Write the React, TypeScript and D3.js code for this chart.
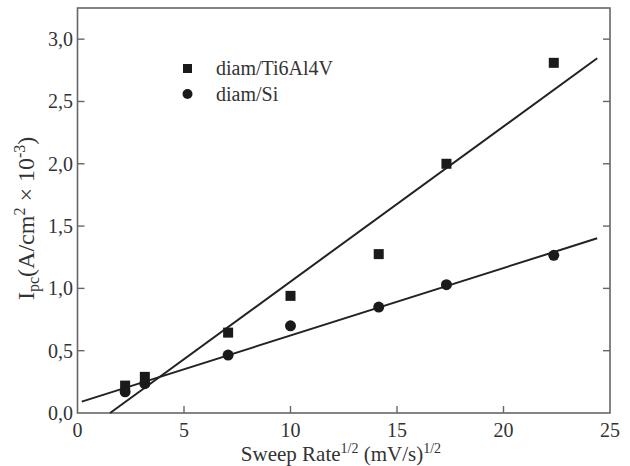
import React from "react";
import * as d3 from "d3";

const sweepRootX = [2.236, 3.162, 7.071, 10, 14.142, 17.321, 22.361];
const tiValues = [0.22, 0.29, 0.645, 0.94, 1.275, 2.0, 2.81];
const siValues = [0.17, 0.235, 0.465, 0.70, 0.85, 1.03, 1.265];
const tiFit = [[1.53, 0], [24.4, 2.847]];
const siFit = [[0.2, 0.091], [24.4, 1.402]];
const xTicks = [0, 5, 10, 15, 20, 25];
const yTicks = [0, 0.5, 1.0, 1.5, 2.0, 2.5, 3.0];
const seriesNames = ["diam/Ti6Al4V", "diam/Si"];

const W = 630, H = 466;
const left = 77.5, right = 610, top = 8, bottom = 413;
const FONT = "Liberation Serif, Times New Roman, DejaVu Serif, serif";
const TXT = "#333";

export default function App() {
  const x = d3.scaleLinear().domain([0, 25]).range([left, right]);
  const y = d3.scaleLinear().domain([0, 3.25]).range([bottom, top]);
  const line = d3.line<number[]>().x(d => x(d[0])).y(d => y(d[1]));
  const fmt = (v: number) => v.toFixed(1).replace(".", ",");
  const frame = "#666";
  return (
    <svg width={W} height={H} style={{ position: "absolute", left: 0, top: 0, background: "#fff", fontFamily: FONT }}>
      <rect x={left} y={top} width={right - left} height={bottom - top} fill="none" stroke={frame} strokeWidth={1.6} />
      {xTicks.map(t => (
        <g key={"x" + t}>
          {t > 0 && t < 25 && <line x1={x(t)} x2={x(t)} y1={bottom} y2={bottom - 7} stroke={frame} strokeWidth={1.4} />}
          <text x={x(t)} y={437} textAnchor="middle" fontSize={20} fill={TXT}>{t}</text>
        </g>
      ))}
      {yTicks.map(t => (
        <g key={"y" + t}>
          {t > 0 && <line x1={left} x2={left + 7} y1={y(t)} y2={y(t)} stroke={frame} strokeWidth={1.4} />}
          {t > 0 && <line x1={right} x2={right - 7} y1={y(t)} y2={y(t)} stroke={frame} strokeWidth={1.4} />}
          <text x={73} y={y(t) + 7} textAnchor="end" fontSize={20} fill={TXT}>{fmt(t)}</text>
        </g>
      ))}
      <path d={line(tiFit as any) || ""} stroke="#222" strokeWidth={2} fill="none" />
      <path d={line(siFit as any) || ""} stroke="#222" strokeWidth={2} fill="none" />
      {sweepRootX.map((v, i) => (
        <rect key={"s" + i} x={x(v) - 5} y={y(tiValues[i]) - 5} width={10} height={10} fill="#1a1a1a" />
      ))}
      {sweepRootX.map((v, i) => (
        <circle key={"c" + i} cx={x(v)} cy={y(siValues[i])} r={5.5} fill="#1a1a1a" />
      ))}
      <rect x={183} y={64} width={9} height={9} fill="#1a1a1a" />
      <text x={216} y={75} fontSize={20} fill={TXT}>{seriesNames[0]}</text>
      <circle cx={187.5} cy={94} r={5} fill="#1a1a1a" />
      <text x={216} y={101} fontSize={20} fill={TXT}>{seriesNames[1]}</text>
      <text x={341} y={461} textAnchor="middle" fontSize={21} fill={TXT}>
        Sweep Rate<tspan dy={-8} fontSize={14}>1/2</tspan><tspan dy={8}> (mV/s)</tspan><tspan dy={-8} fontSize={14}>1/2</tspan>
      </text>
      <text transform="translate(34,300) rotate(-90)" textAnchor="start" fontSize={24} fill={TXT}>
        I<tspan dy={5} fontSize={16}>pc</tspan><tspan dy={-5}>(A/cm</tspan><tspan dy={-9} fontSize={16}>2</tspan><tspan dy={9}> × 10</tspan><tspan dy={-9} fontSize={16}>-3</tspan><tspan dy={9}>)</tspan>
      </text>
    </svg>
  );
}
